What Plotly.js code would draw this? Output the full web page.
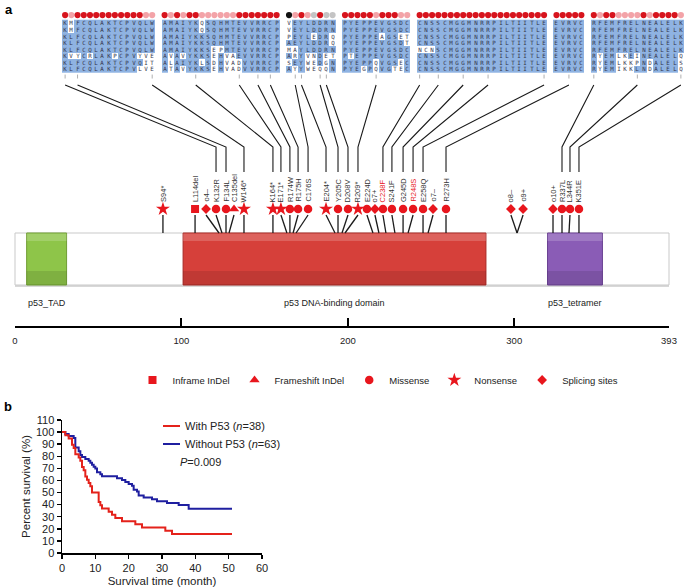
<!DOCTYPE html>
<html><head><meta charset="utf-8">
<script src="https://cdn.plot.ly/plotly-3.0.1.min.js"></script>
<style>html,body{margin:0;padding:0;background:#fff}#chart{width:685px;height:587px}</style>
</head><body><div id="chart"></div>
<script>
// ================= DATA =================
// --- alignment (panel a, top) ---
const species = ['Homo sapien','Gorilla gorilla gorilla','Mus musculus','Rattus norvegicus','Felis catus','Gallus gallus','Oncorhynchus mykiss','Xenopus laevis'];
const blockStart = [132,161,203,219,238,271,337];
const seqHomo    = ['KMFCQLAKTCPVQLW','AMAIYKQSQHMTEVVRRCP','VEYLDDRN','PYEPPEVGSDC','CNSSCMGGMNRRPILTIITLE','EVRVC','RFEMFRELNEALELK'];
const seqGorilla = ['KMFCQLAKTCPVQLW','AMAIYKQSQHMTEVVRRCP','VEYLDDRN','PYEPPEVGSDC','CNSSCMGGMNRRPILTIITLE','EVRVC','RFEMFRELNEALELK'];
const seqMus     = ['KLFCQLAKTCPVQLW','AMAIYKKSQHMTEVVRRCP','PEYLEDRQ','PYEPPEAGSET','CNSSCMGGMNRRPILTIITLE','EVRVC','RFEMFRELNEALELK'];
const seqRattus  = ['KLFCQLAKTCPVQLW','AMAIYKKSQHMTEVVRRCP','AEYLDDRQ','PYEPPEVGSDT','CNSSCMGGMNRRPILTIITLE','EVRVC','RFEMFRELNEALELK'];
const seqFelis   = ['KLFCQLAKTCPVQLW','AMAIYKKSEPMTEVVRRCP','MAYLDDRN','PYEPPEVGSDC','NCNSCMGGMNRRPILTIITLE','EVRVC','RFEMFRELNEALELK'];
const seqGallus  = ['KVYCRLAKPCPVYVE','AVAVYKKSEHVAEVVRRCP','ARYVNDET','PTEPPEVGSDC','CNSSCMGGMNRRPILTIITLE','EVRVC','RYEMLKEINEALELQ'];
const seqOnco    = ['KLFCQLAKTCPVQIT','ALAIYKLSDHVADVVRRCP','SEYWEDGN','PYEPPQVGSEC','CNSSCMGGMNRRPILTIITLE','EVRVC','RYEMLKKPNDALELS'];
const seqXenopus = ['KLFCQLAKTCPVLVE','ATAVYKKSEHVADVVRRCP','AYYWEQQN','PYEGPQVGTEC','CNSSCMGGMNRRPILTIITLE','EVRVC','RYEMIKKLNDALELQ'];
// conservation level per column: r = conserved, p = partly, g = low, k = black
const consLevel = ['rprrrrrrrrrrrpp','rprprrpppppprrrrrrr','kprpgrgg','rrrrrprrrpp','rrrrrrrrrrrrrrrrrrrrr','rrrrr','rprrpppprprrrrp'];

// --- mutations (lollipops) ---
const mutName  = ['S94*','L114del','o4–','K132R','F134L','C135del','W146*','K164*','E171*','R174W','R175H','C176S','E204*','Y205C','D208V','R209*','E224D','o7+','C238F','S241F','G245D','R248S','E258Q','o7–','R273H','o8–','o9+','o10+','R337L','L344R','K351E'];
const mutType  = ['Nonsense','Inframe InDel','Splicing sites','Missense','Missense','Frameshift InDel','Nonsense','Nonsense','Nonsense','Missense','Missense','Missense','Nonsense','Missense','Missense','Nonsense','Missense','Splicing sites','Missense','Missense','Missense','Missense','Missense','Splicing sites','Missense','Splicing sites','Splicing sites','Splicing sites','Missense','Missense','Missense'];
const mutLabelPos = [88.9,108.2,114.8,120.8,126.8,131.6,137.6,155.0,159.8,165.2,170.1,176.1,186.9,194.1,200.1,206.1,211.5,216.3,221.1,226.5,233.2,239.2,245.2,251.2,259.0,298.0,305.3,323.3,328.7,333.5,338.9];
const mutStemPos  = [88.9,108.2,122.6,124.4,126.8,128.6,137.6,155.0,163.4,165.2,167.1,168.9,192.3,194.1,196.5,198.3,215.1,218.7,222.9,228.3,233.2,236.2,245.2,248.2,259.0,301.7,301.7,323.3,328.7,332.9,338.9];
const mutAlignCol = [null,null,null,0,2,null,14,21,28,31,33,37,38,41,42,50,null,null,57,60,64,68,77,null,81,null,null,null,85,92,99];
const mutHighlight = ['C238F','R248S'];

// --- protein domains ---
const proteinLength = 393;
const domainName  = ['p53_TAD','p53 DNA-binding domain','p53_tetramer'];
const domainStart = [7,101,320];
const domainEnd   = [31,283,353];
const rulerTicks  = [0,100,200,300,393];
const typeOrder   = ['Inframe InDel','Frameshift InDel','Missense','Nonsense','Splicing sites'];

// --- Kaplan-Meier (panel b) ---
const withT    = [0,1,2,3,3.5,4,5,5.5,6,6.5,7,7.5,8,8.5,9,11,11.5,12,14,15,16,18,22,24,31,33,51];
const withS    = [100,97.4,94.7,89.5,86.8,81.6,78.9,76.3,71.1,68.4,63.2,60.5,57.9,55.3,50.0,42.1,39.5,36.8,34.2,31.6,28.9,26.3,23.7,21.1,18.4,15.8,15.8];
const withoutT = [0,1,2,3.5,4,5,5.5,6,7,8,8.5,9,9.5,10,10.5,11.5,12,16.5,18,19,20,21,21.5,22.5,23,24.5,27,28.5,31.5,35,38,51];
const withoutS = [100,98.4,96.8,95.2,87.3,84.1,81.0,79.4,77.8,76.2,74.6,73.0,71.4,69.8,66.7,65.1,63.5,61.9,60.3,58.7,57.1,55.6,52.4,50.8,47.6,46.0,44.4,42.9,41.3,39.7,36.5,36.5];

// ================= LAYOUT CONSTANTS =================
const W = 685, H = 587;
const FONT = 'Arial, "Liberation Sans", sans-serif';
const RED = '#e8161d', BLUE_KM = '#1f1fa0', RED_KM = '#e4221b';
const px2pxY = py => 1 - py / H;
const P0 = 15, P1 = 669;
const upp = proteinLength / (P1 - P0);
const X_RANGE = [-P0 * upp, proteinLength + (W - P1) * upp];
const X2_DOM = [62 / W, 684 / W];
const X2_RANGE = [-0.5, 99.5];
const Y2_RANGE = [8.6, -1.9];
const ROW0 = 23, ROWH = 6.57;
const Y2_DOM = [px2pxY(ROW0 + 8.6 * ROWH), px2pxY(ROW0 - 1.9 * ROWH)];
const colToProt = c => {
  const frac = (c - X2_RANGE[0]) / (X2_RANGE[1] - X2_RANGE[0]);
  const px = (X2_DOM[0] + frac * (X2_DOM[1] - X2_DOM[0])) * W;
  return X_RANGE[0] + px / W * (X_RANGE[1] - X_RANGE[0]);
};
const Y_ALIGN_LINE_TOP = 85, Y_BEND = 147, Y_CONN_END = 172;
const Y_LABEL_BOTTOM = 203, Y_MARKER = 209, Y_STEM_TOP = 215, Y_BAR_TOP = 233, Y_BAR_BOT = 285;

// ================= BUILD ALIGNMENT =================
const seqs = [seqHomo, seqGorilla, seqMus, seqRattus, seqFelis, seqGallus, seqOnco, seqXenopus];
const nCols = blockStart.length - 1 + seqHomo.reduce((a, s) => a + s.length, 0);
const z = seqs.map(() => new Array(nCols).fill(null));
const txt = seqs.map(() => new Array(nCols).fill(''));
const dotX = [], dotC = [];
const lvlColor = {r: '#d7141d', p: '#f3a3a8', g: '#c4c4c4', k: '#111111'};
let col = 0;
seqHomo.forEach((blk, b) => {
  for (let j = 0; j < blk.length; j++) {
    const letters = seqs.map(s => s[b][j]);
    const cnt = {};
    letters.forEach(l => cnt[l] = (cnt[l] || 0) + 1);
    let cons = letters[0];
    letters.forEach(l => { if (cnt[l] > cnt[cons]) cons = l; });
    letters.forEach((l, r) => { z[r][col] = (l === cons) ? 1 : 0; txt[r][col] = l; });
    dotX.push(col); dotC.push(lvlColor[consLevel[b][j]]);
    col++;
  }
  col++;
});

const traces = [];
traces.push({
  type: 'heatmap', x: [...Array(nCols).keys()], y: [...Array(species.length).keys()],
  z: z, text: txt, texttemplate: '%{text}',
  textfont: {size: 5.8, family: '"DejaVu Sans Mono", monospace', color: '#33334a'},
  colorscale: [[0, '#ffffff'], [1, '#8fb3e2']], zmin: 0, zmax: 1, showscale: false,
  xaxis: 'x2', yaxis: 'y2', hoverinfo: 'skip', xgap: 0, ygap: 0
});
traces.push({
  type: 'scatter', mode: 'markers', x: dotX, y: dotX.map(() => -1.2),
  marker: {size: 6.2, color: dotC}, xaxis: 'x2', yaxis: 'y2', showlegend: false, hoverinfo: 'skip'
});
const tkX = [], tkY = [];
mutAlignCol.forEach(c => { if (c !== null) { tkX.push(c, c, null); tkY.push(7.85, 8.45, null); } });
traces.push({type: 'scatter', mode: 'lines', x: tkX, y: tkY, line: {color: '#9a9a9a', width: 0.8},
  xaxis: 'x2', yaxis: 'y2', showlegend: false, hoverinfo: 'skip'});

const cnX = [], cnY = [];
mutAlignCol.forEach((c, i) => {
  if (c === null) return;
  cnX.push(colToProt(c), mutLabelPos[i], mutLabelPos[i], null);
  cnY.push(Y_ALIGN_LINE_TOP, Y_BEND, Y_CONN_END, null);
});
traces.push({type: 'scatter', mode: 'lines', x: cnX, y: cnY, line: {color: '#1a1a1a', width: 1.1},
  xaxis: 'x', yaxis: 'y', showlegend: false, hoverinfo: 'skip'});

const stX = [], stY = [];
mutName.forEach((n, i) => { stX.push(mutLabelPos[i], mutStemPos[i], null); stY.push(Y_STEM_TOP, Y_BAR_TOP, null); });
traces.push({type: 'scatter', mode: 'lines', x: stX, y: stY, line: {color: '#1a1a1a', width: 1.3},
  xaxis: 'x', yaxis: 'y', showlegend: false, hoverinfo: 'skip'});

const symbolOf = {'Inframe InDel': 'square', 'Frameshift InDel': 'triangle-up', 'Missense': 'circle', 'Nonsense': 'star', 'Splicing sites': 'diamond'};
const sizeOf = {'Inframe InDel': 8, 'Frameshift InDel': 9, 'Missense': 8.5, 'Nonsense': 10.5, 'Splicing sites': 7.5};
typeOrder.forEach(t => {
  const idx = mutType.map((m, i) => m === t ? i : -1).filter(i => i >= 0);
  traces.push({
    type: 'scatter', mode: 'markers', name: t,
    x: idx.map(i => mutLabelPos[i]), y: idx.map(() => Y_MARKER),
    marker: {symbol: symbolOf[t], size: sizeOf[t], color: RED, line: {width: 0}},
    xaxis: 'x', yaxis: 'y', showlegend: true, hoverinfo: 'skip'
  });
});

// invisible anchor trace so the ruler subplot is created
traces.push({type: 'scatter', mode: 'markers', x: [rulerTicks[0]], y: [0.5], marker: {opacity: 0},
  xaxis: 'x3', yaxis: 'y3', showlegend: false, hoverinfo: 'skip'});

traces.push({type: 'scatter', mode: 'lines', x: withoutT, y: withoutS, line: {shape: 'hv', color: BLUE_KM, width: 2},
  xaxis: 'x4', yaxis: 'y4', showlegend: false, hoverinfo: 'skip'});
traces.push({type: 'scatter', mode: 'lines', x: withT, y: withS, line: {shape: 'hv', color: RED_KM, width: 2},
  xaxis: 'x4', yaxis: 'y4', showlegend: false, hoverinfo: 'skip'});

// ================= ANNOTATIONS / SHAPES =================
const ann = [];
ann.push({text: '<b>a</b>', xref: 'paper', yref: 'paper', x: 3 / W, y: px2pxY(0), xanchor: 'left', yanchor: 'top', showarrow: false, font: {size: 13, family: FONT, color: '#000'}});
ann.push({text: '<b>b</b>', xref: 'paper', yref: 'paper', x: 2 / W, y: px2pxY(397), xanchor: 'left', yanchor: 'top', showarrow: false, font: {size: 13, family: FONT, color: '#000'}});
ann.push({text: 'Conservative level', xref: 'x2', yref: 'y2', x: -1.4, y: -1.2, xanchor: 'right', yanchor: 'middle', showarrow: false, font: {size: 6.3, family: FONT, color: '#222'}});
species.forEach((s, r) => ann.push({text: '<i>' + s + '</i>', xref: 'x2', yref: 'y2', x: -1.4, y: r, xanchor: 'right', yanchor: 'middle', showarrow: false, font: {size: 6.3, family: FONT, color: '#222'}}));
mutName.forEach((n, i) => ann.push({
  text: n, xref: 'x', yref: 'y', x: mutLabelPos[i], y: Y_LABEL_BOTTOM, textangle: -90,
  xanchor: 'center', yanchor: 'bottom', showarrow: false, borderpad: 0,
  font: {size: 7.5, family: FONT, color: mutHighlight.includes(n) ? RED : '#333'}
}));
domainName.forEach((d, i) => ann.push({
  text: d, xref: 'x', yref: 'y', x: (domainStart[i] + domainEnd[i]) / 2, y: 303, xanchor: 'center', yanchor: 'middle',
  showarrow: false, font: {size: 9, family: FONT, color: '#222'}
}));
ann.push({text: 'With P53 (<i>n</i>=38)', xref: 'paper', yref: 'paper', x: 183 / W, y: px2pxY(426), xanchor: 'left', yanchor: 'middle', showarrow: false, font: {size: 11, family: FONT, color: '#222'}});
ann.push({text: 'Without P53 (<i>n</i>=63)', xref: 'paper', yref: 'paper', x: 183 / W, y: px2pxY(444), xanchor: 'left', yanchor: 'middle', showarrow: false, font: {size: 11, family: FONT, color: '#222'}});
ann.push({text: '<i>P</i>=0.009', xref: 'paper', yref: 'paper', x: 178 / W, y: px2pxY(462), xanchor: 'left', yanchor: 'middle', showarrow: false, font: {size: 11, family: FONT, color: '#222'}});

const shapes = [];
shapes.push({type: 'rect', xref: 'x', yref: 'y', x0: 0, x1: proteinLength, y0: Y_BAR_TOP + 2, y1: Y_BAR_BOT + 2, fillcolor: '#d8d8d8', line: {width: 0}, layer: 'below'});
shapes.push({type: 'rect', xref: 'x', yref: 'y', x0: 0, x1: proteinLength, y0: Y_BAR_TOP, y1: Y_BAR_BOT, fillcolor: '#ffffff', line: {color: '#c9c9c9', width: 1}, layer: 'below'});
const domFill = ['#8ec549', '#d6403a', '#8a5cb6'];
const domLine = ['#6f9d33', '#a82a26', '#6a4192'];
domainName.forEach((d, i) => {
  shapes.push({type: 'rect', xref: 'x', yref: 'y', x0: domainStart[i], x1: domainEnd[i], y0: Y_BAR_TOP, y1: Y_BAR_BOT, fillcolor: domFill[i], line: {color: domLine[i], width: 1}, layer: 'below'});
  shapes.push({type: 'rect', xref: 'x', yref: 'y', x0: domainStart[i], x1: domainEnd[i], y0: Y_BAR_TOP + 0.5, y1: Y_BAR_TOP + 8, fillcolor: 'rgba(255,255,255,0.18)', line: {width: 0}, layer: 'below'});
  shapes.push({type: 'rect', xref: 'x', yref: 'y', x0: domainStart[i], x1: domainEnd[i], y0: Y_BAR_BOT - 14, y1: Y_BAR_BOT, fillcolor: 'rgba(0,0,0,0.10)', line: {width: 0}, layer: 'below'});
});
shapes.push({type: 'line', xref: 'paper', yref: 'paper', x0: 163 / W, x1: 180 / W, y0: px2pxY(426), y1: px2pxY(426), line: {color: RED_KM, width: 2}});
shapes.push({type: 'line', xref: 'paper', yref: 'paper', x0: 163 / W, x1: 180 / W, y0: px2pxY(444), y1: px2pxY(444), line: {color: BLUE_KM, width: 2}});

const hidden = {visible: false, fixedrange: true, showgrid: false, zeroline: false};
const layout = {
  width: W, height: H, margin: {l: 0, r: 0, t: 0, b: 0},
  paper_bgcolor: '#fff', plot_bgcolor: 'rgba(0,0,0,0)',
  font: {family: FONT, color: '#222'},
  xaxis: Object.assign({}, hidden, {domain: [0, 1], range: X_RANGE, anchor: 'y'}),
  yaxis: Object.assign({}, hidden, {domain: [0, 1], range: [H, 0], anchor: 'x'}),
  xaxis2: Object.assign({}, hidden, {domain: X2_DOM, range: X2_RANGE, anchor: 'y2'}),
  yaxis2: Object.assign({}, hidden, {domain: Y2_DOM, range: Y2_RANGE, anchor: 'x2'}),
  xaxis3: {domain: [P0 / W, P1 / W], range: [0, proteinLength], anchor: 'y3', fixedrange: true, visible: true,
    showline: true, linecolor: '#000', linewidth: 2, ticks: 'inside', ticklen: 8, tickwidth: 2, tickcolor: '#000',
    tickmode: 'array', tickvals: rulerTicks, ticktext: rulerTicks.map(String), tickfont: {size: 9.5, family: FONT, color: '#222'},
    ticklabelstandoff: 5, showgrid: false, zeroline: false},
  yaxis3: {domain: [px2pxY(326), px2pxY(316)], range: [0, 1], anchor: 'x3', fixedrange: true, visible: false, showgrid: false, zeroline: false},
  xaxis4: {domain: [62 / W, 262 / W], range: [0, 60], anchor: 'y4', fixedrange: true, dtick: 10, tick0: 0,
    showline: true, linecolor: '#000', linewidth: 1.5, ticks: 'outside', ticklen: 4, tickwidth: 1.5, tickcolor: '#000',
    tickfont: {size: 11, family: FONT, color: '#222'}, showgrid: false, zeroline: false,
    title: {text: 'Survival time (month)', font: {size: 11.5, family: FONT, color: '#222'}, standoff: 4}},
  yaxis4: {domain: [px2pxY(553), px2pxY(420)], range: [0, 110], anchor: 'x4', fixedrange: true, dtick: 10, tick0: 0,
    showline: true, linecolor: '#000', linewidth: 1.5, ticks: 'outside', ticklen: 4, tickwidth: 1.5, tickcolor: '#000',
    tickfont: {size: 11, family: FONT, color: '#222'}, showgrid: false, zeroline: false,
    title: {text: 'Percent survival (%)', font: {size: 11.5, family: FONT, color: '#222'}, standoff: 3}},
  showlegend: true,
  legend: {orientation: 'h', x: 378 / W, xanchor: 'center', y: px2pxY(380), yanchor: 'middle',
    font: {size: 9.5, family: FONT, color: '#222'}, bgcolor: 'rgba(0,0,0,0)', itemclick: false, itemdoubleclick: false},
  annotations: ann, shapes: shapes
};
Plotly.newPlot('chart', traces, layout, {displayModeBar: false, staticPlot: true});
</script></body></html>
